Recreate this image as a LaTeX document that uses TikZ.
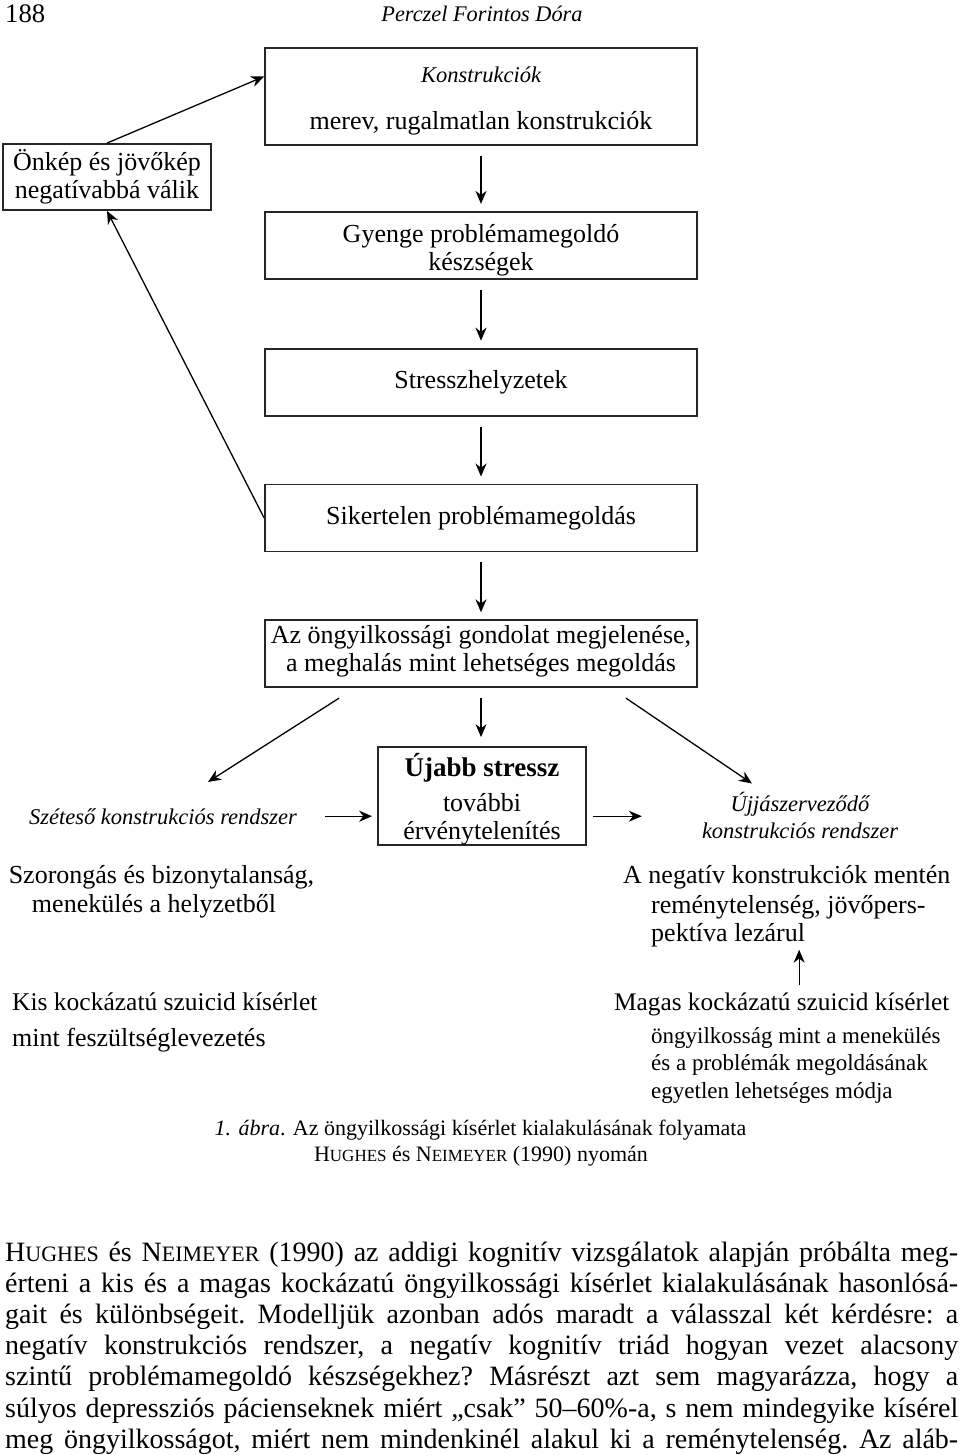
\documentclass[tikz,border=0pt]{standalone}
\usepackage{fontspec}
\setmainfont{Liberation Serif}
\usetikzlibrary{positioning,arrows.meta}
\newcommand{\dgm}{\fontsize{26}{28}\selectfont}
\newcommand{\dgmit}{\fontsize{22.5}{27}\selectfont\itshape}
\newcommand{\tight}{\fontsize{23}{27}\selectfont}
\newcommand{\capfont}{\fontsize{22}{26}\selectfont}
\newcommand{\bodyfont}{\fontsize{28}{31}\selectfont\frenchspacing}
\newcommand{\fsc}[3]{#1{\fontsize{#3}{#3}\selectfont #2}}

\begin{document}
\begin{tikzpicture}[x=1pt, y=-1pt,
box/.style={rectangle, draw=black!85, line width=1.8pt, minimum width=432pt, minimum height=67pt, inner sep=0pt, align=center, font=\dgm},
smallbox/.style={box, minimum width=208pt},
txt/.style={inner sep=0pt, anchor=base west, font=\dgm},
ctxt/.style={inner sep=0pt, anchor=base, font=\dgm},
arr/.style={-{Stealth[length=13pt, width=11pt]}, line width=1.3pt}
]
\fill[white] (0,0) rectangle (960,1455);
\useasboundingbox (0,0) rectangle (960,1455);

%Header
\node[txt, font=\fontsize{26.7}{30}\selectfont] (pagenum) at (5,23) {188};
\node[ctxt, font=\fontsize{22.3}{26}\selectfont\itshape] (author) at (482,22) {Perczel Forintos Dóra};

%Nodes
\node[box, minimum height=97pt] (constr) at (481,96.5) {{\dgmit\rule{0pt}{25pt}Konstrukciók}\\[19pt]merev, rugalmatlan konstrukciók};
\node[smallbox, minimum height=66pt] (selfimg) at (107,177) {Önkép és jövőkép\\negatívabbá válik};
\node[box] (skills) [below=65pt of constr] {\rule{0pt}{28pt}Gyenge problémamegoldó\\készségek};
\node[box] (stress) [below=68pt of skills] {Stresszhelyzetek};
\node[box] (fail) [below=67pt of stress] {Sikertelen problémamegoldás};
\node[box] (thought) [below=67pt of fail] {Az öngyilkossági gondolat megjelenése,\\a meghalás mint lehetséges megoldás\rule[-10pt]{0pt}{10pt}};
\node[smallbox, minimum height=98pt] (newstress) at (482,796) {{\fontsize{27}{30}\selectfont\bfseries\rule{0pt}{29pt}Újabb stressz}\\[7pt]további\\érvénytelenítés};

\node[ctxt, font=\dgmit] (scatter) at (163,824) {Széteső konstrukciós rendszer};
\node[font=\dgmit, align=center, inner sep=0pt] (reorg) at (800,815) {Újjászerveződő\\konstrukciós rendszer};
\node[ctxt] (anx1) at (161.5,883) {Szorongás és bizonytalanság,};
\node[ctxt] (anx2) at (154,912) {menekülés a helyzetből};
\node[txt] (hope1) at (623,883) {A negatív konstrukciók mentén};
\node[txt] (hope2) at (651,913) {reménytelenség, jövőpers-};
\node[txt] (hope3) at (651,941) {pektíva lezárul};
\node[txt, font=\fontsize{25.5}{28}\selectfont] (low1) at (12,1010) {Kis kockázatú szuicid kísérlet};
\node[txt] (low2) at (12,1046) {mint feszültséglevezetés};
\node[txt, font=\fontsize{25.3}{28}\selectfont] (high1) at (614,1010) {Magas kockázatú szuicid kísérlet};
\node[txt, font=\tight] (high2) at (651,1043) {öngyilkosság mint a menekülés};
\node[txt, font=\tight] (high3) at (651,1070) {és a problémák megoldásának};
\node[txt, font=\tight] (high4) at (651,1098) {egyetlen lehetséges módja};

%Caption
\node[ctxt, font=\capfont] (cap1) at (480.5,1135) {\textit{1. ábra}. Az öngyilkossági kísérlet kialakulásának folyamata};
\node[ctxt, font=\capfont] (cap2) at (481,1161) {\fsc{H}{UGHES}{17} és \fsc{N}{EIMEYER}{17} (1990) nyomán};

%Body text
\node[txt, font=\bodyfont] (par1) at (5,1261) {\makebox[953pt][s]{\fsc{H}{UGHES}{22} és \fsc{N}{EIMEYER}{22} (1990) az addigi kognitív vizsgálatok alapján próbálta meg-}};
\node[txt, font=\bodyfont] (par2) at (5,1292) {\makebox[953pt][s]{érteni a kis és a magas kockázatú öngyilkossági kísérlet kialakulásának hasonlósá-}};
\node[txt, font=\bodyfont] (par3) at (5,1323) {\makebox[953pt][s]{gait és különbségeit. Modelljük azonban adós maradt a válasszal két kérdésre: a}};
\node[txt, font=\bodyfont] (par4) at (5,1354) {\makebox[953pt][s]{negatív konstrukciós rendszer, a negatív kognitív triád hogyan vezet alacsony}};
\node[txt, font=\bodyfont] (par5) at (5,1385) {\makebox[953pt][s]{szintű problémamegoldó készségekhez? Másrészt azt sem magyarázza, hogy a}};
\node[txt, font=\bodyfont] (par6) at (5,1417) {\makebox[953pt][s]{súlyos depressziós pácienseknek miért „csak” 50–60\%-a, s nem mindegyike kísérel}};
\node[txt, font=\bodyfont] (par7) at (5,1448) {\makebox[953pt][s]{meg öngyilkosságot, miért nem mindenkinél alakul ki a reménytelenség. Az aláb-}};

%Connections
\draw[arr, shorten <=10pt, shorten >=7pt] (constr) -- (skills);
\draw[arr, shorten <=10pt, shorten >=7pt] (skills) -- (stress);
\draw[arr, shorten <=10pt, shorten >=7pt] (stress) -- (fail);
\draw[arr, shorten <=10pt, shorten >=7pt] (fail) -- (thought);
\draw[arr, shorten <=10pt, shorten >=9pt] (thought.south) -- (thought.south |- newstress.north);

\draw[arr] (selfimg.north) -- ([yshift=20pt]constr.west);
\draw[arr] (fail.west) -- (selfimg.south);

\draw[arr] ([xshift=75pt, yshift=-10pt]thought.south west) -- ([xshift=45pt, yshift=26pt]scatter.north);
\draw[arr] ([xshift=-72pt, yshift=-10pt]thought.south east) -- ([xshift=-48pt, yshift=8pt]reorg.north);

\draw[arr, shorten <=28pt, shorten >=5pt] (scatter.east) -- (scatter.east -| newstress.west);
\draw[arr, shorten <=6pt, shorten >=60pt] (scatter.east -| newstress.east) -- (scatter.east -| reorg.west);

\coordinate (upx) at ([xshift=-6pt]hope3.south east);
\draw[arr, shorten <=7pt, shorten >=3pt] (upx |- high1.north) -- (upx);
\end{tikzpicture}
\end{document}
